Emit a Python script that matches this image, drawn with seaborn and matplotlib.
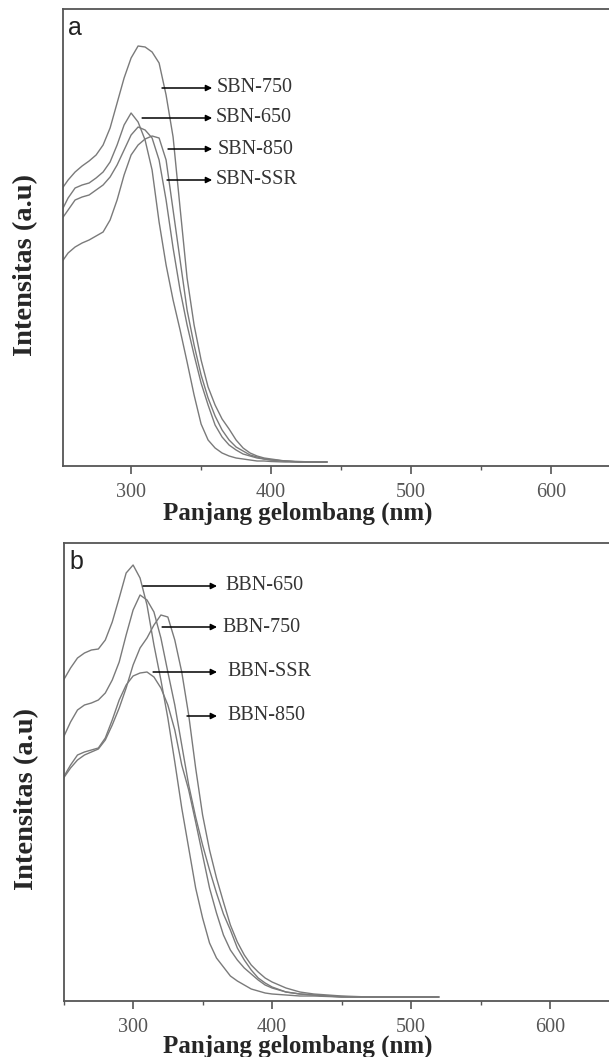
import numpy as np
import pandas as pd
import matplotlib
matplotlib.use('Agg')
import matplotlib.pyplot as plt
from matplotlib.ticker import MultipleLocator
import seaborn as sns

# panjang gelombang (nm), panel a
wl_a = [250, 255, 260, 265, 270, 275, 280, 285, 290, 295, 300, 305, 310, 315, 320,
        325, 330, 335, 340, 345, 350, 355, 360, 365, 370, 375, 380, 385, 390, 395,
        400, 410, 420, 430, 440]
sbn_750 = [272, 282, 290, 296, 301, 307, 317, 334, 359, 384, 404, 416, 415, 410, 399,
           367, 325, 254, 184, 137, 102, 75, 57, 43, 33, 22, 14, 9, 6, 4,
           3, 1, 0.5, 0, 0]
sbn_650 = [250, 264, 274, 277, 279, 284, 290, 300, 317, 337, 349, 340, 322, 292, 240,
           197, 162, 132, 100, 67, 38, 22, 14, 9, 6, 4, 3, 2, 1, 1,
           0.5, 0, 0, 0, 0]
sbn_850 = [242, 252, 262, 265, 267, 272, 277, 285, 297, 312, 327, 335, 332, 324, 302,
           262, 214, 172, 137, 107, 79, 57, 37, 25, 17, 12, 8, 6, 4, 3,
           2, 1, 0, 0, 0]
sbn_ssr = [199, 209, 215, 219, 222, 226, 230, 242, 262, 287, 307, 317, 323, 326, 324,
           302, 252, 202, 152, 117, 87, 64, 46, 32, 22, 15, 11, 7, 5, 3,
           2, 1, 0, 0, 0]

# panel b
wl_b = [250, 255, 260, 265, 270, 275, 280, 285, 290, 295, 300, 305, 310, 315, 320,
        325, 330, 335, 340, 345, 350, 355, 360, 365, 370, 375, 380, 385, 390, 395,
        400, 410, 420, 430, 440, 450, 460, 470, 480, 490, 500, 510, 520]
bbn_650 = [317, 329, 339, 344, 347, 348, 357, 375, 399, 424, 432, 419, 392, 352, 317,
           279, 235, 189, 149, 109, 79, 54, 39, 30, 21, 16, 12, 8, 6, 4,
           3, 2, 1, 1, 0.5, 0, 0, 0, 0, 0, 0, 0, 0]
bbn_750 = [260, 275, 287, 292, 294, 297, 304, 317, 335, 362, 387, 402, 397, 385, 359,
           325, 292, 252, 212, 180, 152, 127, 104, 83, 67, 49, 37, 27, 19, 14,
           10, 5, 3, 2, 1, 0.5, 0, 0, 0, 0, 0, 0, 0]
bbn_ssr = [220, 232, 242, 245, 247, 249, 259, 277, 297, 312, 321, 324, 325, 320, 309,
           292, 267, 232, 207, 175, 142, 109, 84, 62, 47, 37, 29, 23, 17, 12,
           9, 5, 3, 2, 1, 0, 0, 0, 0, 0, 0, 0, 0]
bbn_850 = [219, 229, 237, 242, 245, 248, 257, 272, 289, 309, 332, 349, 359, 372, 382,
           380, 357, 325, 282, 229, 182, 147, 119, 95, 72, 55, 42, 32, 25, 19,
           15, 9, 5, 3, 2, 1, 0.5, 0, 0, 0, 0, 0, 0]

names_a = ["SBN-750", "SBN-650", "SBN-850", "SBN-SSR"]
names_b = ["BBN-650", "BBN-750", "BBN-SSR", "BBN-850"]

# label text position + arrow tail (on the curve), data coords
labels_a = {"SBN-750": (361.4, 374, 322.1), "SBN-650": (360.7, 344, 307.9),
            "SBN-850": (362.1, 313, 326.4), "SBN-SSR": (360.7, 282, 325.7)}
labels_b = {"BBN-650": (366.2, 411, 307.2), "BBN-750": (364.0, 370, 320.9),
            "BBN-SSR": (367.6, 325, 314.4), "BBN-850": (367.6, 281, 338.8)}


def long_df(wl, series, names):
    return pd.DataFrame({"wl": wl * len(series),
                         "I": np.concatenate(series),
                         "sampel": np.repeat(names, len(wl))})


sns.set_style("white")
plt.rcParams['font.family'] = ['Liberation Serif', 'DejaVu Serif']

fig = plt.figure(figsize=(6.09, 10.57), dpi=100)
ax_a = fig.add_axes([62.5 / 609, 1 - 466 / 1057, 1 - 62.5 / 609, 457 / 1057])
ax_b = fig.add_axes([63.6 / 609, 1 - 1001 / 1057, 1 - 63.6 / 609, 458 / 1057])

panels = [
    (ax_a, long_df(wl_a, [sbn_750, sbn_650, sbn_850, sbn_ssr], names_a), names_a,
     labels_a, "a", (251, 641.4), (-4, 453), -0.078, 357.9),
    (ax_b, long_df(wl_b, [bbn_650, bbn_750, bbn_ssr, bbn_850], names_b), names_b,
     labels_b, "b", (250, 642.4), (-4, 454), -0.074, 360.4),
]

for ax, df, names, labs, letter, xl, yl, xlab_y, head_x in panels:
    sns.lineplot(data=df, x="wl", y="I", hue="sampel", hue_order=names,
                 palette=["#7a7a7a"] * 4, estimator=None, legend=False,
                 lw=1.0, ax=ax)
    ax.set_xlim(*xl)
    ax.set_ylim(*yl)
    ax.set_xticks([300, 400, 500, 600])
    ax.xaxis.set_minor_locator(MultipleLocator(50))
    ax.set_yticks([])
    ax.tick_params(axis='x', which='major', direction='out', length=6, width=1.2,
                   color='#555555', labelsize=14.5, labelcolor='#555555', pad=6,
                   bottom=True)
    ax.tick_params(axis='x', which='minor', direction='out', length=3, width=1.0,
                   color='#555555', bottom=True)
    for s in ['left', 'top', 'bottom']:
        ax.spines[s].set_color('#555555')
        ax.spines[s].set_linewidth(1.3)
    ax.spines['right'].set_visible(False)

    ax.set_xlabel("Panjang gelombang (nm)", fontsize=18, fontweight='bold', va='top')
    ax.xaxis.set_label_coords(0.43, xlab_y)
    ax.set_ylabel("Intensitas (a.u)", fontsize=20.5, fontweight='bold', va='center')
    ax.yaxis.set_label_coords(-0.067, 0.44)

    ax.text(0.01, 0.958, letter, transform=ax.transAxes, fontsize=18,
            family='Liberation Sans', ha='left', va='center', color='#222222')

    for name in names:
        tx, ty, tail = labs[name]
        ax.annotate("", xy=(head_x, ty), xytext=(tail, ty),
                    arrowprops=dict(arrowstyle='-|>', color='black', lw=1.1,
                                    mutation_scale=9, shrinkA=0, shrinkB=0))
        ax.text(tx, ty, name, fontsize=14.5, color='#333333', ha='left', va='center')

fig.savefig("out.png", dpi=100)
